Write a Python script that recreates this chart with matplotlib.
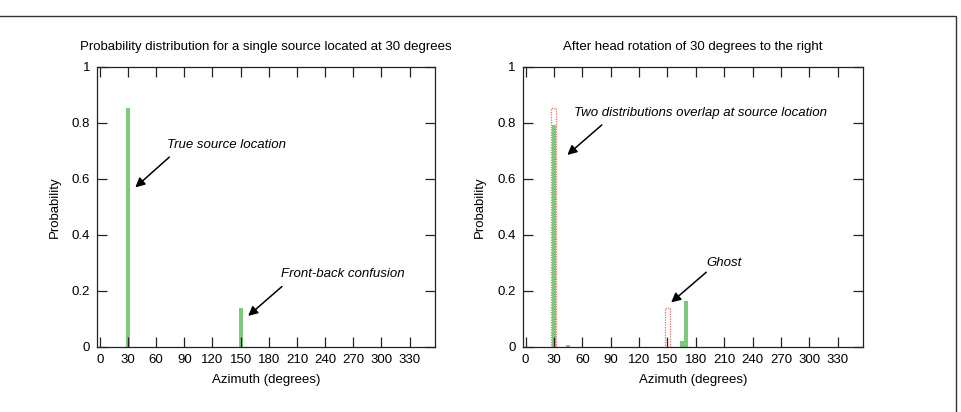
import matplotlib
matplotlib.use("Agg")
import matplotlib.pyplot as plt
from matplotlib.patches import Rectangle

plt.rcParams['font.family'] = ['Liberation Sans', 'DejaVu Sans']

# ---- data ----
xticks = list(range(0, 331, 30))
yticks = [0, 0.2, 0.4, 0.6, 0.8, 1.0]
ytick_labels = ["0", "0.2", "0.4", "0.6", "0.8", "1"]

left_az = [30, 150]
left_prob = [0.851, 0.138]

right_prev_az = [30, 150]
right_prev_prob = [0.854, 0.14]
right_new_az = [30, 45, 165, 170]
right_new_prob = [0.792, 0.006, 0.02, 0.165]

left_title = "Probability distribution for a single source located at 30 degrees"
right_title = "After head rotation of 30 degrees to the right"

GREEN = "#7ccb7c"
RED = "#e0705f"

fig = plt.figure(figsize=(9.61, 4.12), dpi=100)

ax1 = fig.add_axes([97 / 961, 1 - 346.7 / 412, 338 / 961, 280 / 412])
ax2 = fig.add_axes([522.7 / 961, 1 - 346.7 / 412, 340.6 / 961, 280 / 412])


def style(ax, title):
    ax.set_xlim(-3, 357)
    ax.set_ylim(0, 1)
    ax.set_xticks(xticks)
    ax.set_yticks(yticks)
    ax.set_yticklabels(ytick_labels)
    ax.tick_params(direction='in', length=7.5, width=0.9, top=True, right=True,
                   labelsize=9.5, pad=5, color='#222222')
    for s in ax.spines.values():
        s.set_linewidth(0.9)
        s.set_color('#222222')
    ax.set_xlabel("Azimuth (degrees)", fontsize=9.5, labelpad=6)
    ax.set_ylabel("Probability", fontsize=9.5, labelpad=8)
    ax.set_title(title, fontsize=9.5, pad=12)


style(ax1, left_title)
style(ax2, right_title)

ax1.bar(left_az, left_prob, width=4.2, color=GREEN, zorder=1)
ax2.bar(right_new_az, right_new_prob, width=4.0, color=GREEN, zorder=1)
ax2.bar(right_prev_az, right_prev_prob, width=5.2, facecolor='none',
        edgecolor=RED, linestyle=(0, (1, 1)), linewidth=0.9, zorder=2)

arrowprops = dict(arrowstyle='-|>', color='black', lw=1.1, mutation_scale=14,
                  shrinkA=0, shrinkB=0)
tkw = dict(fontsize=9.5, style='italic', va='center', ha='left')

ax1.annotate("", xy=(37.8, 0.569), xytext=(74, 0.677), arrowprops=arrowprops)
ax1.text(72, 0.72, "True source location", **tkw)
ax1.annotate("", xy=(158, 0.11), xytext=(194, 0.215), arrowprops=arrowprops)
ax1.text(193, 0.26, "Front-back confusion", **tkw)

ax2.annotate("", xy=(44.2, 0.685), xytext=(80.6, 0.792), arrowprops=arrowprops)
ax2.text(51.4, 0.836, "Two distributions overlap at source location", **tkw)
ax2.annotate("", xy=(153.9, 0.158), xytext=(191, 0.266), arrowprops=arrowprops)
ax2.text(209.7, 0.30, "Ghost", fontsize=9.5, style='italic', va='center', ha='center')

# figure frame
fig.patches.append(Rectangle((-0.01, -0.01), 955.5 / 961 + 0.01, 1 - 16 / 412 + 0.01,
                             transform=fig.transFigure, fill=False,
                             edgecolor='#333333', linewidth=1.0))

fig.savefig("out.png", dpi=100)
